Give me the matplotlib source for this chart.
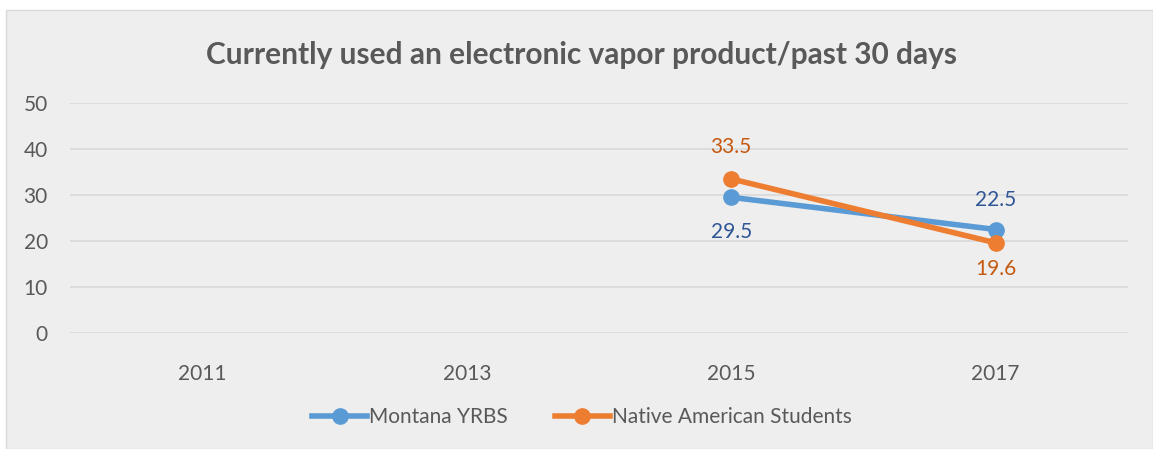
import matplotlib
matplotlib.use("Agg")
import matplotlib.pyplot as plt
import numpy as np
from matplotlib.patches import Rectangle

years = ["2011", "2013", "2015", "2017"]
montana = [np.nan, np.nan, 29.5, 22.5]
native = [np.nan, np.nan, 33.5, 19.6]
title = "Currently used an electronic vapor product/past 30 days"
yticks = [0, 10, 20, 30, 40, 50]

plt.rcParams['font.family'] = ['Lato', 'DejaVu Sans']
W, H = 1153, 449
fig = plt.figure(figsize=(W/100, H/100), dpi=100)
fig.patch.set_facecolor('white')
bg = Rectangle((6/W, 0), 1 - 6/W, 1 - 10/H, transform=fig.transFigure,
               facecolor='#eeeeee', edgecolor='#d9d9d9', linewidth=1, zorder=-10)
fig.patches.append(bg)

ax = fig.add_axes([70/W, 1-333/H, (1128-70)/W, (333-103)/H])
ax.set_facecolor('none')
x = np.arange(len(years))
blue, orange = '#5B9BD5', '#ED7D31'
ax.plot(x, montana, color=blue, lw=4, marker='o', ms=11, label='Montana YRBS', zorder=3)
ax.plot(x, native, color=orange, lw=4, marker='o', ms=11, label='Native American Students', zorder=4)

for xi, v in zip(x, montana):
    if not np.isnan(v):
        off = -25 if xi == 2 else 21
        ax.annotate(f"{v:.1f}", (xi, v), xytext=(0, off), textcoords='offset points',
                    ha='center', va='center', color='#2F5597', fontsize=15)
for xi, v in zip(x, native):
    if not np.isnan(v):
        off = 23 if xi == 2 else -19
        ax.annotate(f"{v:.1f}", (xi, v), xytext=(0, off), textcoords='offset points',
                    ha='center', va='center', color='#C55A11', fontsize=15)

ax.set_xlim(-0.5, 3.5)
ax.set_ylim(0, 50)
ax.set_yticks(yticks)
ax.set_xticks(x)
ax.set_xticklabels(years)
ax.grid(axis='y', color='#d9d9d9', lw=1.2)
ax.set_axisbelow(True)
for s in ax.spines.values():
    s.set_visible(False)
ax.tick_params(length=0, labelsize=15, labelcolor='#595959')
ax.tick_params(axis='y', pad=16)
ax.tick_params(axis='x', pad=22)

fig.text(582/W, 1-55/H, title, ha='center', va='center', fontsize=21.5,
         fontweight='bold', color='#595959')

leg = fig.legend(loc='center', bbox_to_anchor=(582/W, 1-417/H), ncol=2, frameon=False,
                 fontsize=15, handlelength=2.6, columnspacing=2.3, handletextpad=0.1,
                 labelcolor='#595959')
fig.savefig('out.png', dpi=100, facecolor='white')
